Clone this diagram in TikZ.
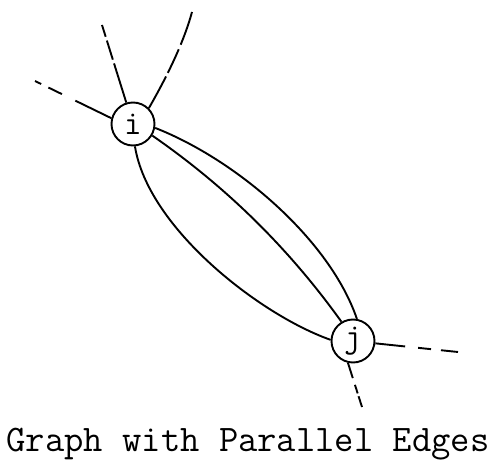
\documentclass[tikz,border=0pt]{standalone}
\usepackage{fontspec}
\begin{document}
\begin{tikzpicture}[x=1pt,y=-1pt,
  edge/.style={line width=1.9pt},
  vert/.style={circle,draw,line width=1.9pt,minimum size=43pt,inner sep=0pt,
    font=\ttfamily\fontsize{34}{34}\selectfont},
  captext/.style={font=\ttfamily\fontsize{37.5}{38}\selectfont,anchor=base,inner sep=0pt}]
\useasboundingbox (0,0) rectangle (490,460);
\node[vert] (i) at (133,124) {i};
\node[vert] (j) at (353,341) {j};
\coordinate (ul) at (35,81);
\coordinate (top) at (102,25);
\coordinate (ur) at (192,12);
\coordinate (jr) at (458,352);
\coordinate (jd) at (362,407);
% parallel edges
\draw[edge] (i.-10) .. controls (237,160) and (330,240) .. (j.80);
\draw[edge] (i.-31) .. controls (228,188) and (290,250) .. (j.121);
\draw[edge] (i.-85) .. controls (148,228) and (260,315) .. (j.177);
% dashed stubs
\draw[edge,dash pattern=on 40pt off 15pt on 15pt off 8pt on 20pt] (i.165) -- (ul);
\draw[edge,dash pattern=on 41pt off 4pt on 20pt off 4pt on 30pt] (i) -- (top);
\draw[edge,dash pattern=on 36pt off 4pt on 26pt off 5pt on 40pt] (i.45) .. controls (165,80) and (183,45) .. (ur);
\draw[edge,dash pattern=on 30pt off 13pt on 13pt off 10pt on 20pt] (j) -- (jr);
\draw[edge,dash pattern=on 16pt off 7pt on 9pt off 3pt on 20pt] (j.-103) -- (jd);
\node[captext] (caption) at (248,451) {Graph with Parallel Edges};
\end{tikzpicture}
\end{document}
